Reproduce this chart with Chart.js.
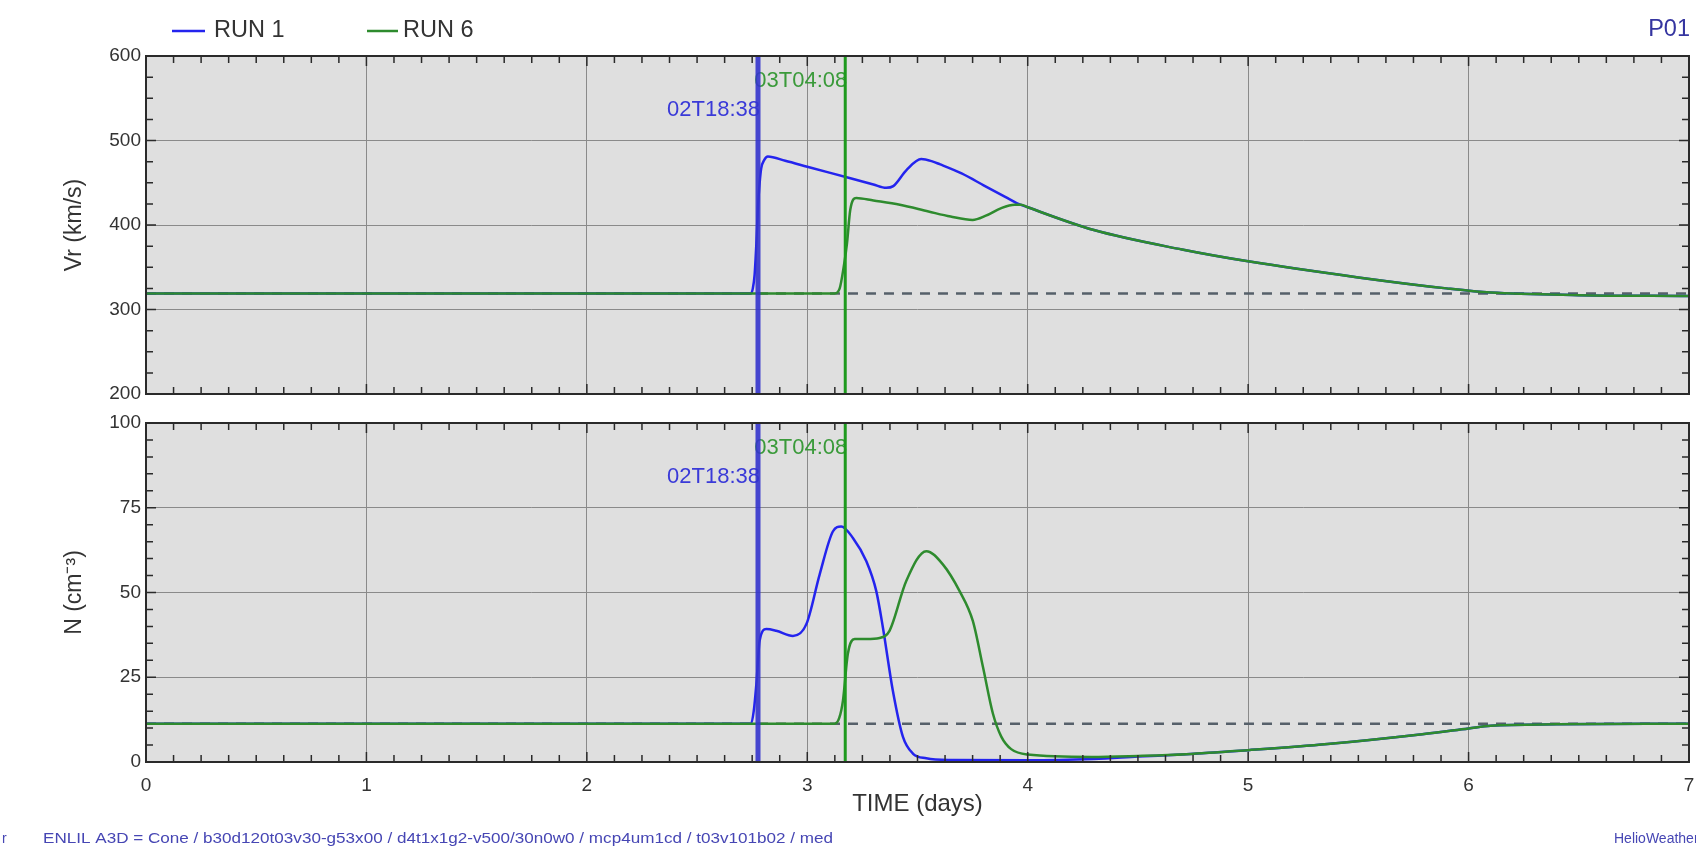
<!DOCTYPE html>
<html>
<head>
<meta charset="utf-8">
<script src="https://cdn.jsdelivr.net/npm/chart.js@4.4.1/dist/chart.umd.min.js"></script>
<style>
  html, body { margin: 0; padding: 0; background: #fff; }
  #wrap { position: relative; width: 1696px; height: 849px; overflow: hidden; }
  canvas { position: absolute; left: 0; }
  #vr { top: 0; }
  #dens { top: 400px; }
</style>
</head>
<body>
<div id="wrap">
  <canvas id="vr" width="1696" height="400"></canvas>
  <canvas id="dens" width="1696" height="449"></canvas>
</div>
<script>
// --- data (time in days) ---
const runLabels = ['RUN 1', 'RUN 6'];
const markerTimes = [2.7764, 3.1722];
const markerLabels = ['02T18:38', '03T04:08'];
const timeTicks = [0, 1, 2, 3, 4, 5, 6, 7];

const run1VrTime = [0, 2.745, 2.753, 2.761, 2.769, 2.776, 2.784, 2.791, 2.805, 2.821, 2.9, 3.0, 3.1, 3.2, 3.3, 3.358, 3.39, 3.45, 3.517, 3.57, 3.6, 3.7, 3.8, 3.9, 3.95, 4.0, 4.3, 4.7, 5.0, 5.5, 5.9, 6.1, 6.5, 7.0];
const run1Vr     = [319, 319, 325, 341, 378, 420, 450, 467, 477, 481, 476, 469, 462, 455, 448, 444, 446, 465, 478, 475, 472, 461, 447, 433, 426, 421, 394, 371, 357, 338, 325, 320, 317, 316];

const run6VrTime = [0, 3.124, 3.147, 3.165, 3.18, 3.195, 3.222, 3.3, 3.42, 3.55, 3.65, 3.75, 3.81, 3.88, 3.94, 3.97, 4.0, 4.3, 4.7, 5.0, 5.5, 5.9, 6.1, 6.5, 7.0];
const run6Vr     = [319, 319, 325, 350, 378, 418, 432, 429, 424, 416, 410, 406, 411, 420, 424, 424, 421, 394, 371, 357, 338, 325, 320, 317, 316];

const run1NTime = [0, 2.745, 2.757, 2.769, 2.784, 2.814, 2.859, 2.935, 2.996, 3.056, 3.116, 3.154, 3.207, 3.268, 3.313, 3.343, 3.388, 3.434, 3.479, 3.54, 3.65, 4.0, 4.3, 4.5, 4.72, 5.0, 5.36, 5.79, 6.0, 6.1, 6.4, 7.0];
const run1N     = [11.3, 11.3, 15, 23, 35.8, 39.2, 38.7, 37.2, 40.7, 55.3, 68, 69.5, 66.1, 59.2, 50.4, 39.7, 21.1, 7.4, 2.5, 1.1, 0.6, 0.5, 0.9, 1.6, 2.3, 3.5, 5.3, 8.2, 9.9, 10.7, 11.1, 11.3];

const run6NTime = [0, 3.124, 3.145, 3.162, 3.184, 3.215, 3.268, 3.328, 3.373, 3.449, 3.54, 3.615, 3.691, 3.751, 3.797, 3.842, 3.88, 3.925, 4.0, 4.29, 4.5, 4.72, 5.0, 5.36, 5.79, 6.0, 6.1, 6.4, 7.0];
const run6N     = [11.3, 11.3, 13, 18.2, 31.9, 36.3, 36.3, 36.6, 38.7, 53.4, 62.2, 58.3, 50.4, 41.6, 28, 14.3, 7.5, 3.8, 2.2, 1.5, 1.8, 2.3, 3.5, 5.3, 8.2, 9.9, 10.7, 11.1, 11.3];

const ambientTime = [0, 7];
const ambientVr = [319, 319];
const ambientN = [11.3, 11.3];

const footerText = 'ENLIL A3D = Cone / b30d120t03v30-g53x00 / d4t1x1g2-v500/30n0w0 / mcp4um1cd / t03v101b02 / med';

const FONT = '"Liberation Sans", Arial, Helvetica, sans-serif';
const BLUE = '#2424ee';
const GREEN = '#2e8b2e';
const TEXT = '#333';

const pts = (xs, ys) => xs.map((x, i) => ({ x, y: ys[i] }));

function curve(label, data, color, order) {
  return {
    label, data, borderColor: color, borderWidth: 2.5,
    pointRadius: 0, fill: false, cubicInterpolationMode: 'monotone', order
  };
}

function marker(t, yMin, yMax, color, width, order) {
  return {
    label: 'marker', data: [{ x: t, y: yMin }, { x: t, y: yMax }],
    borderColor: color, borderWidth: width, pointRadius: 0, tension: 0, order
  };
}

function ambient(data) {
  return {
    label: 'ambient', data, borderColor: '#56606a', borderWidth: 2.5,
    borderDash: [10, 8], pointRadius: 0, tension: 0, order: 10
  };
}

// background, event labels, minor ticks and frame
const framePlugin = {
  id: 'frame',
  beforeDraw(chart) {
    const { ctx, chartArea: a } = chart;
    ctx.save();
    ctx.fillStyle = '#dfdfdf';
    ctx.fillRect(a.left, a.top, a.right - a.left, a.bottom - a.top);
    ctx.restore();
  },
  beforeDatasetsDraw(chart) {
    // event labels sit under the marker lines
    const { ctx, chartArea: a, scales: { x } } = chart;
    ctx.save();
    ctx.font = '22px ' + FONT;
    ctx.textAlign = 'right';
    ctx.textBaseline = 'middle';
    ctx.fillStyle = '#3a3ad8';
    ctx.fillText(markerLabels[0], x.getPixelForValue(markerTimes[0]) + 2, a.top + 54);
    ctx.fillStyle = '#3a9a3a';
    ctx.fillText(markerLabels[1], x.getPixelForValue(markerTimes[1]) + 2, a.top + 25);
    ctx.restore();
  },
  afterDraw(chart, args, opts) {
    const { ctx, chartArea: a, scales: { x, y } } = chart;
    ctx.save();
    ctx.strokeStyle = '#2a2a2a';
    ctx.lineWidth = 1.5;
    ctx.beginPath();
    for (let t = 0; t <= 7.0001; t += 0.125) {
      const px = x.getPixelForValue(t);
      const len = Math.abs(t - Math.round(t)) < 1e-6 ? 10 : 7;
      ctx.moveTo(px, a.top); ctx.lineTo(px, a.top + len);
      ctx.moveTo(px, a.bottom); ctx.lineTo(px, a.bottom - len);
    }
    for (let v = y.min; v <= y.max + 1e-6; v += opts.yMinor) {
      const py = y.getPixelForValue(v);
      const major = Math.abs((v - y.min) % opts.yMajor) < 1e-6;
      const len = major ? 10 : 7;
      ctx.moveTo(a.left, py); ctx.lineTo(a.left + len, py);
      ctx.moveTo(a.right, py); ctx.lineTo(a.right - len, py);
    }
    ctx.stroke();
    ctx.lineWidth = 2;
    ctx.strokeRect(a.left, a.top, a.right - a.left, a.bottom - a.top);
    ctx.restore();
  }
};

const headerPlugin = {
  id: 'header',
  afterDraw(chart) {
    const { ctx } = chart;
    ctx.save();
    ctx.lineWidth = 2.5;
    ctx.strokeStyle = BLUE;
    ctx.beginPath(); ctx.moveTo(172, 31); ctx.lineTo(205, 31); ctx.stroke();
    ctx.strokeStyle = GREEN;
    ctx.beginPath(); ctx.moveTo(367, 31); ctx.lineTo(398, 31); ctx.stroke();
    ctx.font = '23.5px ' + FONT;
    ctx.textBaseline = 'middle';
    ctx.fillStyle = TEXT;
    ctx.fillText(runLabels[0], 214, 31);
    ctx.fillText(runLabels[1], 403, 31);
    ctx.fillStyle = '#3535a0';
    ctx.textAlign = 'right';
    ctx.fillText('P01', 1690, 30);
    ctx.restore();
  }
};

const footerPlugin = {
  id: 'footer',
  afterDraw(chart) {
    const { ctx } = chart;
    ctx.save();
    ctx.font = '14px ' + FONT;
    ctx.textBaseline = 'middle';
    ctx.fillStyle = '#4646b4';
    ctx.fillText('r', 2, 439);
    ctx.fillText('HelioWeather', 1614, 439);
    const w = ctx.measureText(footerText).width;
    ctx.translate(43, 439);
    ctx.scale(790 / w, 1);
    ctx.fillText(footerText, 0, 0);
    ctx.restore();
  }
};

function xScale(showLabels) {
  return {
    type: 'linear', min: 0, max: 7,
    afterBuildTicks: s => { s.ticks = timeTicks.map(v => ({ value: v })); },
    ticks: {
      display: showLabels, padding: 12, color: TEXT,
      font: { family: FONT, size: 19 }
    },
    grid: { color: '#8a8a8a', lineWidth: 1, drawTicks: false },
    border: { display: false },
    title: {
      display: showLabels, text: 'TIME (days)', color: TEXT,
      font: { family: FONT, size: 24 }, padding: { top: 0, bottom: 30 }
    },
    afterFit: s => {
      s.height = showLabels ? 87 : 0;
      s.paddingLeft = 0; s.paddingRight = 0;
    }
  };
}

function yScale(min, max, step, title) {
  return {
    min, max,
    ticks: { stepSize: step, padding: 5, color: TEXT, font: { family: FONT, size: 19 } },
    grid: { color: '#8a8a8a', lineWidth: 1, drawTicks: false },
    border: { display: false },
    title: {
      display: true, text: title, color: TEXT,
      font: { family: FONT, size: 23 }, padding: { top: 61, bottom: 0 }
    },
    afterFit: s => {
      s.width = 146;
      s.paddingTop = 0; s.paddingBottom = 0;
    }
  };
}

function baseOptions(padding, x, y, minor, major) {
  return {
    responsive: false,
    animation: false,
    events: [],
    layout: { padding },
    scales: { x, y },
    plugins: {
      legend: { display: false },
      tooltip: { enabled: false },
      frame: { yMinor: minor, yMajor: major }
    }
  };
}

new Chart(document.getElementById('vr'), {
  type: 'line',
  data: {
    datasets: [
      marker(markerTimes[1], 200, 600, '#1e9a1e', 3, 0),
      marker(markerTimes[0], 200, 600, 'rgba(52,52,205,0.9)', 5, 1),
      curve(runLabels[1], pts(run6VrTime, run6Vr), GREEN, 2),
      curve(runLabels[0], pts(run1VrTime, run1Vr), BLUE, 3),
      ambient(pts(ambientTime, ambientVr))
    ]
  },
  options: baseOptions({ top: 56, bottom: 6, left: 0, right: 7 },
    xScale(false), yScale(200, 600, 100, 'Vr (km/s)'), 25, 100),
  plugins: [framePlugin, headerPlugin]
});

new Chart(document.getElementById('dens'), {
  type: 'line',
  data: {
    datasets: [
      marker(markerTimes[1], 0, 100, '#1e9a1e', 3, 0),
      marker(markerTimes[0], 0, 100, 'rgba(52,52,205,0.9)', 5, 1),
      curve(runLabels[1], pts(run6NTime, run6N), GREEN, 2),
      curve(runLabels[0], pts(run1NTime, run1N), BLUE, 3),
      ambient(pts(ambientTime, ambientN))
    ]
  },
  options: baseOptions({ top: 23, bottom: 0, left: 0, right: 7 },
    xScale(true), yScale(0, 100, 25, 'N (cm\u207B\u00B3)'), 5, 25),
  plugins: [framePlugin, footerPlugin]
});
</script>
</body>
</html>
